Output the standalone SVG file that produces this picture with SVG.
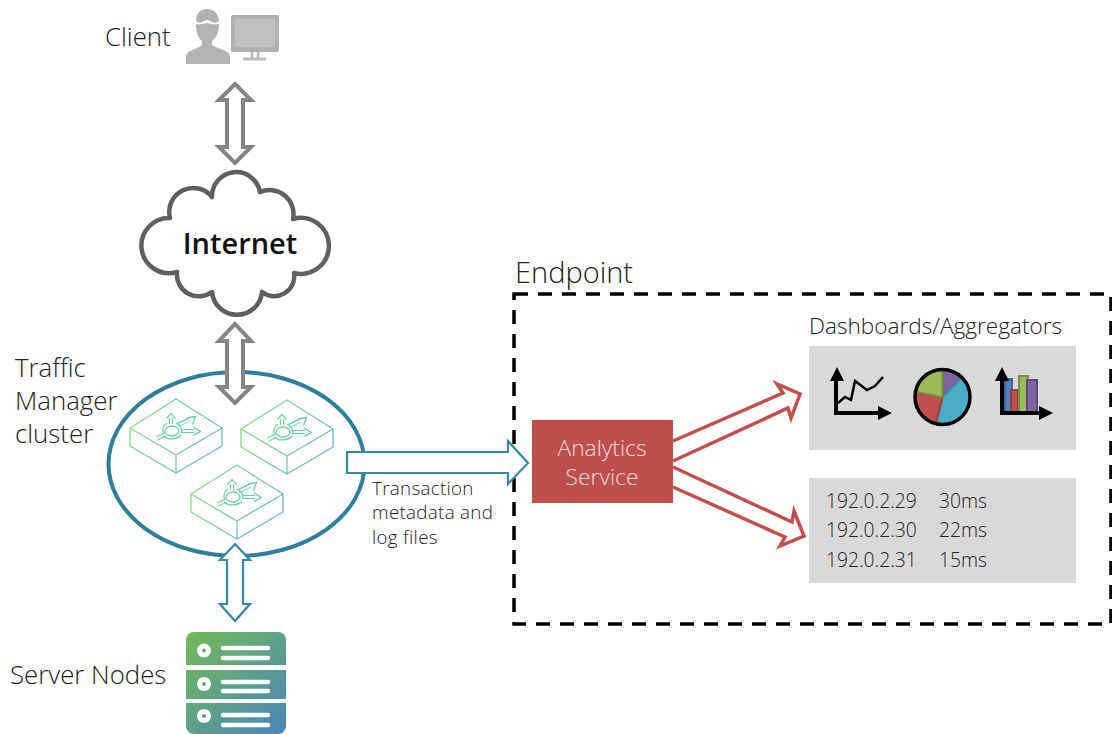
<svg xmlns="http://www.w3.org/2000/svg" width="1112" height="734" viewBox="0 0 1112 734">
<style>
text{font-family:"Open Sans","Noto Sans","Liberation Sans",sans-serif;font-weight:300;fill:#222}
.lbl{font-size:25.8px}
.sm{font-size:18.8px;letter-spacing:.3px}
.ip{font-size:19.3px}
.gray{fill:#fff;stroke:#858585;stroke-width:4}
.teal{fill:#fff;stroke:#3a87a0;stroke-width:2.2}
.red{fill:#fff;stroke:#c0504d;stroke-width:3.5}
.panel{fill:#d9d9d9}
.ax{fill:none;stroke:#000;stroke-width:4}
.bar{stroke-width:2}
</style>
<defs>
<linearGradient id="sg" gradientUnits="userSpaceOnUse" x1="186" y1="632" x2="286" y2="734"><stop offset="0" stop-color="#72bb56"/><stop offset="1" stop-color="#4a85bb"/></linearGradient>
<linearGradient id="bg" gradientUnits="userSpaceOnUse" x1="130" y1="410" x2="222" y2="460"><stop offset="0" stop-color="#8edc7c"/><stop offset="1" stop-color="#6db0de"/></linearGradient>
<linearGradient id="rg" gradientUnits="userSpaceOnUse" x1="157" y1="413" x2="201" y2="438"><stop offset="0" stop-color="#7fdc8f"/><stop offset="1" stop-color="#5fbfc0"/></linearGradient>
<g id="sw">
<path d="M130 428 176 399 222 428 176 455ZM130 428V446L176 473 222 446V428M176 455V473" fill="#fff" stroke="url(#bg)" stroke-width="1.300" stroke-linejoin="round"/>
<g fill="none">
<path d="M157 438.500 165 434.500M171 424V418M178 425 189 419.500M181 431H194" stroke="url(#rg)" stroke-width="4.200"/>
<path d="M157 438.500 165.500 434.300M171 425V417M178.500 425 190 419.500M181 431H195" stroke="#fff" stroke-width="2"/>
<path d="M166.500 418.500 171 413.500 175.500 418.500M187 418 195.500 416.500 192.500 424.500M193 427 200.500 431.500 193 435.500" stroke="url(#rg)" stroke-width="1.300" stroke-linejoin="round"/>
<path d="M164 434A11 9 0 0 1 167 423M176 423A11 9 0 0 1 181.500 433M181 435A11 8 0 0 1 163 436" stroke="url(#rg)" stroke-width="1.300"/>
<ellipse cx="172" cy="431" rx="7" ry="5" fill="#fff" stroke="url(#rg)" stroke-width="1.300"/>
</g>
</g>
</defs>

<g id="client">
<text class="lbl" x="105" y="46">Client</text>
<path d="M207 9C200 9 196 14 196 21C198 23 200 23 202 22C204 21 205 20 207 20C209 20 210 21 212 22C214 23 217 23 219 21C219 14 214 9 207 9Z" fill="#b3b3b3"/>
<path d="M196 24C199 25 202 24 207 23C211 24 215 25 219 24C219 32 216 38 212 41V45C218 49 229 50 230 56V64H186V56C187 50 198 49 202 45V41C198 38 196 32 196 24Z" fill="#b3b3b3"/>
<rect x="231" y="15" width="48" height="37" rx="2" fill="#b0b0b0"/>
<rect x="235" y="19" width="40" height="28" fill="#bfbfbf"/>
<path d="M252 52V58M258 52V58" stroke="#b8b8b8" stroke-width="2.500"/>
<rect x="243" y="57.500" width="23" height="3" fill="#b8b8b8"/>
</g>

<g id="internet">
<path d="M212 197A24.200 24.200 0 0 1 260 192A24 24 0 0 1 293 219A28 28 0 1 1 294 273A20 20 0 0 1 262 292A25.100 25.100 0 0 1 212 292A22 22 0 0 1 177 272A27.600 27.600 0 1 1 170 218A24 24 0 0 1 212 197Z" fill="#fff" stroke="#5f5f5f" stroke-width="4.500" stroke-linejoin="round"/>
<text x="240" y="254" text-anchor="middle" style="font-size:29px;font-weight:600;fill:#111">Internet</text>
</g>

<g id="traffic-manager">
<ellipse cx="236.500" cy="464" rx="128" ry="92" fill="#fff" stroke="#2f7f9a" stroke-width="4"/>
<text class="lbl"><tspan x="15" y="377">Traffic</tspan><tspan x="15" y="410">Manager</tspan><tspan x="15" y="443">cluster</tspan></text>
<use href="#sw"/>
<use href="#sw" x="111" y="1"/>
<use href="#sw" x="61" y="66"/>
</g>

<g id="servers">
<text class="lbl" x="10" y="684">Server Nodes</text>
<path d="M186 665V640A8 8 0 0 1 194 632H278A8 8 0 0 1 286 640V665ZM186 670H286V699H186ZM186 703H286V726A8 8 0 0 1 278 734H194A8 8 0 0 1 186 726Z" fill="url(#sg)"/>
<g fill="none" stroke="#fff">
<circle cx="204" cy="650.500" r="4.500" stroke-width="5"/><circle cx="204" cy="684" r="4.500" stroke-width="5"/><circle cx="204" cy="716" r="4.500" stroke-width="5"/>
<path d="M223 648H268M223 658H268M223 682H268M223 691H268M223 715H268M223 725H268" stroke-width="4.500" stroke-linecap="round"/>
</g>
</g>

<g id="endpoint">
<rect x="514" y="294" width="597" height="330" fill="none" stroke="#000" stroke-width="3.500" stroke-dasharray="14 10"/>
<text x="515" y="283" style="font-size:29px">Endpoint</text>
</g>

<g id="analytics">
<rect x="532" y="420" width="141" height="83" fill="#be4f4d"/>
<text text-anchor="middle" style="font-size:22.800px;fill:#f3dcdb"><tspan x="602" y="456">Analytics</tspan><tspan x="602" y="485">Service</tspan></text>
</g>

<g id="dashboards">
<text x="809" y="334" style="font-size:22.600px">Dashboards/Aggregators</text>
<rect class="panel" x="809" y="346" width="267" height="104"/>
<path class="ax" d="M836 380V413H878"/><path d="M837 367 830 381H844ZM892 413 878 406V420Z"/>
<path d="M838 403 845 397 851 400 855 381 867 390 875 386 883 377" fill="none" stroke="#000" stroke-width="2.500"/>
<path d="M942.500 397V369.500A27.500 27.500 0 0 1 962 377.500Z" fill="#8064a2" stroke="#5f4a7a" stroke-width="2"/>
<path d="M942.500 397 962 377.500A27.500 27.500 0 0 1 935.800 423.700Z" fill="#4bacc6" stroke="#3c8aa0" stroke-width="2"/>
<path d="M942.500 397 935.800 423.700A27.500 27.500 0 0 1 915.500 391.700Z" fill="#c0504d" stroke="#964240" stroke-width="2"/>
<path d="M942.500 397 915.500 391.700A27.500 27.500 0 0 1 942.500 369.500Z" fill="#9bbb59" stroke="#769145" stroke-width="2"/>
<circle cx="942.500" cy="397" r="27.500" fill="none" stroke="#000" stroke-width="3.500"/>
<rect class="bar" x="1005" y="379" width="7" height="33" fill="#4f81bd" stroke="#3c6595"/>
<rect class="bar" x="1011" y="390" width="7" height="22" fill="#c0504d" stroke="#964240"/>
<rect class="bar" x="1019" y="376" width="9" height="36" fill="#9bbb59" stroke="#769145"/>
<rect class="bar" x="1027" y="380" width="10" height="32" fill="#8064a2" stroke="#5f4a7a"/>
<path class="ax" d="M1002 380V413H1040"/><path d="M1002 367 995 381H1009ZM1053 413 1039 406V420Z"/>
</g>

<g id="log-list">
<rect class="panel" x="809" y="478" width="267" height="105"/>
<text class="ip" x="826" y="508">192.0.2.29</text><text class="ip" x="939" y="508">30ms</text>
<text class="ip" x="826" y="537">192.0.2.30</text><text class="ip" x="939" y="537">22ms</text>
<text class="ip" x="826" y="567">192.0.2.31</text><text class="ip" x="939" y="567">15ms</text>
</g>

<g id="transaction-label">
<text class="sm"><tspan x="372" y="495">Transaction</tspan><tspan x="372" y="519">metadata and</tspan><tspan x="372" y="544">log files</tspan></text>
</g>

<g id="connectors">
<path id="c-client-internet" class="gray" d="M235 84 251 100H243V147H251L235 163 219 147H227V100H219Z"/>
<path id="c-internet-tm" class="gray" d="M235 324 251 341H243V387H251L235 403 219 387H227V341H219Z"/>
<path id="c-tm-servers" class="teal" d="M235 544 250 560H243V604H250L235 621 220 604H227V560H220Z"/>
<path id="c-tm-analytics" class="teal" d="M347 452H508V441L528 463 508 484V473H347Z"/>
<path id="c-analytics-dash" class="red" d="M673 441 783 393 777 384 800 394 791 418 788 408 673 461"/>
<path id="c-analytics-list" class="red" d="M673 467 792 522 794 511 804 536 780 546 785 537 673 487"/>
</g>
</svg>
